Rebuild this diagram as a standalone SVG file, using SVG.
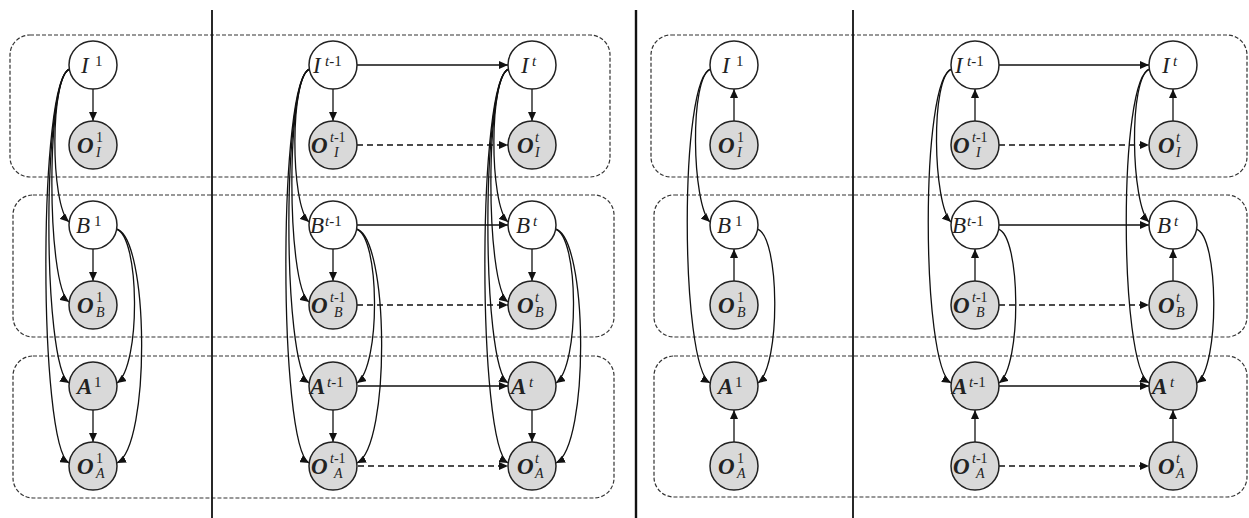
<svg xmlns="http://www.w3.org/2000/svg" width="1249" height="518" viewBox="0 0 1249 518">
<defs>
<marker id="ah" markerUnits="userSpaceOnUse" markerWidth="10" markerHeight="8" refX="9" refY="4" orient="auto">
<path d="M0,0 L9,4 L0,8 z" fill="#111"/>
</marker>
<style>
.box{fill:none;stroke:#333;stroke-width:1.2;stroke-dasharray:4 2}
.sep{stroke:#111;stroke-width:1.8}
.w{fill:#fff;stroke:#222;stroke-width:1.5}
.g{fill:#d9d9d9;stroke:#222;stroke-width:1.5}
text{font-family:"Liberation Serif","DejaVu Serif",serif;fill:#222}
.m{font-size:23px;font-style:italic}
.mb{font-size:23px;font-style:italic;font-weight:bold}
.s{font-size:15px}
.ss{font-size:14px}
.i{font-style:italic}
.e{fill:none;stroke:#111;stroke-width:1.3;marker-end:url(#ah)}
.d{fill:none;stroke:#111;stroke-width:1.3;stroke-dasharray:6 4;marker-end:url(#ah)}
</style>
</defs>
<g id="frames">
<rect class="box" x="10" y="35" width="600" height="142" rx="20"/>
<rect class="box" x="13" y="195" width="601" height="142" rx="20"/>
<rect class="box" x="13" y="356" width="601" height="142" rx="20"/>
<rect class="box" x="651" y="35" width="596" height="142" rx="20"/>
<rect class="box" x="654" y="195" width="593" height="142" rx="20"/>
<rect class="box" x="654" y="356" width="593" height="141" rx="20"/>
<line class="sep" x1="212" y1="10" x2="212" y2="518"/>
<line class="sep" x1="636" y1="10" x2="636" y2="518" style="stroke-width:2.4"/>
<line class="sep" x1="853" y1="10" x2="853" y2="518"/>
</g>
<g id="connectors">
<path class="e" d="M93,89 V121"/><path class="e" d="M93,249 V281"/><path class="e" d="M93,410 V442"/>
<path class="e" d="M70,69 C50,75 50,205 69,222"/>
<path class="e" d="M70,69 C46,75 46,285 69,302"/>
<path class="e" d="M70,69 C42,75 42,366 69,383"/>
<path class="e" d="M70,69 C38,75 38,446 69,463"/>
<path class="e" d="M116,229 C140,235 141,366 117,383"/>
<path class="e" d="M116,229 C149,235 151,446 117,463"/>
<path class="e" d="M333,89 V121"/><path class="e" d="M333,249 V281"/><path class="e" d="M333,410 V442"/>
<path class="e" d="M310,69 C290,75 290,205 309,222"/>
<path class="e" d="M310,69 C286,75 286,285 309,302"/>
<path class="e" d="M310,69 C282,75 282,366 309,383"/>
<path class="e" d="M310,69 C278,75 278,446 309,463"/>
<path class="e" d="M356,229 C380,235 381,366 357,383"/>
<path class="e" d="M356,229 C389,235 391,446 357,463"/>
<path class="e" d="M532,89 V121"/><path class="e" d="M532,249 V281"/><path class="e" d="M532,410 V442"/>
<path class="e" d="M509,69 C489,75 489,205 508,222"/>
<path class="e" d="M509,69 C485,75 485,285 508,302"/>
<path class="e" d="M509,69 C481,75 481,366 508,383"/>
<path class="e" d="M509,69 C477,75 477,446 508,463"/>
<path class="e" d="M555,229 C579,235 580,366 556,383"/>
<path class="e" d="M555,229 C588,235 590,446 556,463"/>
<path class="e" d="M357,65 H508"/>
<path class="d" d="M357,145 H508"/>
<path class="e" d="M357,225 H508"/>
<path class="d" d="M357,305 H508"/>
<path class="e" d="M358,386 H508"/>
<path class="d" d="M358,466 H508"/>
<path class="e" d="M734,121 V89"/><path class="e" d="M734,281 V249"/><path class="e" d="M734,442 V410"/>
<path class="e" d="M711,69 C689,76 692,205 710,222"/>
<path class="e" d="M711,69 C679,76 680,366 710,383"/>
<path class="e" d="M757,229 C780,235 781,366 758,383"/>
<path class="e" d="M975,121 V89"/><path class="e" d="M975,281 V249"/><path class="e" d="M975,442 V410"/>
<path class="e" d="M952,69 C930,76 933,205 951,222"/>
<path class="e" d="M952,69 C920,76 921,366 951,383"/>
<path class="e" d="M998,229 C1021,235 1022,366 999,383"/>
<path class="e" d="M1173,121 V89"/><path class="e" d="M1173,281 V249"/><path class="e" d="M1173,442 V410"/>
<path class="e" d="M1150,69 C1128,76 1131,205 1149,222"/>
<path class="e" d="M1150,69 C1118,76 1119,366 1149,383"/>
<path class="e" d="M1196,229 C1219,235 1220,366 1197,383"/>
<path class="e" d="M999,65 H1149"/>
<path class="d" d="M999,145 H1149"/>
<path class="e" d="M999,225 H1149"/>
<path class="d" d="M999,305 H1149"/>
<path class="e" d="M999,386 H1149"/>
<path class="d" d="M999,466 H1149"/>
</g>
<g id="a-I1"><circle class="w" cx="93" cy="65" r="24"/><text class="m" x="81" y="73">I</text><text class="s" x="95" y="66">1</text></g>
<g id="a-OI1"><circle class="g" cx="93" cy="145" r="24"/><text class="mb" x="77" y="153">O</text><text class="ss" x="96" y="142">1</text><text class="ss i" x="96" y="157">I</text></g>
<g id="a-B1"><circle class="w" cx="93" cy="225" r="24"/><text class="m" x="76" y="233">B</text><text class="s" x="94" y="226">1</text></g>
<g id="a-OB1"><circle class="g" cx="93" cy="305" r="24"/><text class="mb" x="77" y="313">O</text><text class="ss" x="96" y="302">1</text><text class="ss i" x="96" y="317">B</text></g>
<g id="a-A1"><circle class="g" cx="93" cy="386" r="24"/><text class="mb" x="77" y="394">A</text><text class="s" x="94" y="387">1</text></g>
<g id="a-OA1"><circle class="g" cx="93" cy="466" r="24"/><text class="mb" x="77" y="474">O</text><text class="ss" x="96" y="463">1</text><text class="ss i" x="96" y="478">A</text></g>
<g id="a-It1"><circle class="w" cx="333" cy="65" r="24"/><text class="m" x="313" y="73">I</text><text class="s" x="325" y="66"><tspan class="i">t</tspan>-1</text></g>
<g id="a-OIt1"><circle class="g" cx="333" cy="145" r="24"/><text class="mb" x="311" y="153">O</text><text class="ss" x="330" y="142"><tspan class="i">t</tspan>-1</text><text class="ss i" x="334" y="157">I</text></g>
<g id="a-Bt1"><circle class="w" cx="333" cy="225" r="24"/><text class="m" x="310" y="233">B</text><text class="s" x="325" y="226"><tspan class="i">t</tspan>-1</text></g>
<g id="a-OBt1"><circle class="g" cx="333" cy="305" r="24"/><text class="mb" x="311" y="313">O</text><text class="ss" x="330" y="302"><tspan class="i">t</tspan>-1</text><text class="ss i" x="334" y="317">B</text></g>
<g id="a-At1"><circle class="g" cx="333" cy="386" r="24"/><text class="mb" x="310" y="394">A</text><text class="s" x="327" y="387"><tspan class="i">t</tspan>-1</text></g>
<g id="a-OAt1"><circle class="g" cx="333" cy="466" r="24"/><text class="mb" x="311" y="474">O</text><text class="ss" x="330" y="463"><tspan class="i">t</tspan>-1</text><text class="ss i" x="334" y="478">A</text></g>
<g id="a-It"><circle class="w" cx="532" cy="65" r="24"/><text class="m" x="521" y="73">I</text><text class="s i" x="532" y="66">t</text></g>
<g id="a-OIt"><circle class="g" cx="532" cy="145" r="24"/><text class="mb" x="517" y="153">O</text><text class="ss i" x="535" y="142">t</text><text class="ss i" x="535" y="157">I</text></g>
<g id="a-Bt"><circle class="w" cx="532" cy="225" r="24"/><text class="m" x="516" y="233">B</text><text class="s i" x="533" y="226">t</text></g>
<g id="a-OBt"><circle class="g" cx="532" cy="305" r="24"/><text class="mb" x="517" y="313">O</text><text class="ss i" x="535" y="302">t</text><text class="ss i" x="535" y="317">B</text></g>
<g id="a-At"><circle class="g" cx="532" cy="386" r="24"/><text class="mb" x="511" y="394">A</text><text class="s i" x="529" y="387">t</text></g>
<g id="a-OAt"><circle class="g" cx="532" cy="466" r="24"/><text class="mb" x="517" y="474">O</text><text class="ss i" x="535" y="463">t</text><text class="ss i" x="535" y="478">A</text></g>
<g id="b-I1"><circle class="w" cx="734" cy="65" r="24"/><text class="m" x="722" y="73">I</text><text class="s" x="736" y="66">1</text></g>
<g id="b-OI1"><circle class="g" cx="734" cy="145" r="24"/><text class="mb" x="718" y="153">O</text><text class="ss" x="737" y="142">1</text><text class="ss i" x="737" y="157">I</text></g>
<g id="b-B1"><circle class="w" cx="734" cy="225" r="24"/><text class="m" x="717" y="233">B</text><text class="s" x="735" y="226">1</text></g>
<g id="b-OB1"><circle class="g" cx="734" cy="305" r="24"/><text class="mb" x="718" y="313">O</text><text class="ss" x="737" y="302">1</text><text class="ss i" x="737" y="317">B</text></g>
<g id="b-A1"><circle class="g" cx="734" cy="386" r="24"/><text class="mb" x="718" y="394">A</text><text class="s" x="735" y="387">1</text></g>
<g id="b-OA1"><circle class="g" cx="734" cy="466" r="24"/><text class="mb" x="718" y="474">O</text><text class="ss" x="737" y="463">1</text><text class="ss i" x="737" y="478">A</text></g>
<g id="b-It1"><circle class="w" cx="975" cy="65" r="24"/><text class="m" x="955" y="73">I</text><text class="s" x="967" y="66"><tspan class="i">t</tspan>-1</text></g>
<g id="b-OIt1"><circle class="g" cx="975" cy="145" r="24"/><text class="mb" x="953" y="153">O</text><text class="ss" x="972" y="142"><tspan class="i">t</tspan>-1</text><text class="ss i" x="976" y="157">I</text></g>
<g id="b-Bt1"><circle class="w" cx="975" cy="225" r="24"/><text class="m" x="952" y="233">B</text><text class="s" x="967" y="226"><tspan class="i">t</tspan>-1</text></g>
<g id="b-OBt1"><circle class="g" cx="975" cy="305" r="24"/><text class="mb" x="953" y="313">O</text><text class="ss" x="972" y="302"><tspan class="i">t</tspan>-1</text><text class="ss i" x="976" y="317">B</text></g>
<g id="b-At1"><circle class="g" cx="975" cy="386" r="24"/><text class="mb" x="952" y="394">A</text><text class="s" x="969" y="387"><tspan class="i">t</tspan>-1</text></g>
<g id="b-OAt1"><circle class="g" cx="975" cy="466" r="24"/><text class="mb" x="953" y="474">O</text><text class="ss" x="972" y="463"><tspan class="i">t</tspan>-1</text><text class="ss i" x="976" y="478">A</text></g>
<g id="b-It"><circle class="w" cx="1173" cy="65" r="24"/><text class="m" x="1162" y="73">I</text><text class="s i" x="1173" y="66">t</text></g>
<g id="b-OIt"><circle class="g" cx="1173" cy="145" r="24"/><text class="mb" x="1158" y="153">O</text><text class="ss i" x="1176" y="142">t</text><text class="ss i" x="1176" y="157">I</text></g>
<g id="b-Bt"><circle class="w" cx="1173" cy="225" r="24"/><text class="m" x="1157" y="233">B</text><text class="s i" x="1174" y="226">t</text></g>
<g id="b-OBt"><circle class="g" cx="1173" cy="305" r="24"/><text class="mb" x="1158" y="313">O</text><text class="ss i" x="1176" y="302">t</text><text class="ss i" x="1176" y="317">B</text></g>
<g id="b-At"><circle class="g" cx="1173" cy="386" r="24"/><text class="mb" x="1152" y="394">A</text><text class="s i" x="1170" y="387">t</text></g>
<g id="b-OAt"><circle class="g" cx="1173" cy="466" r="24"/><text class="mb" x="1158" y="474">O</text><text class="ss i" x="1176" y="463">t</text><text class="ss i" x="1176" y="478">A</text></g>
</svg>
